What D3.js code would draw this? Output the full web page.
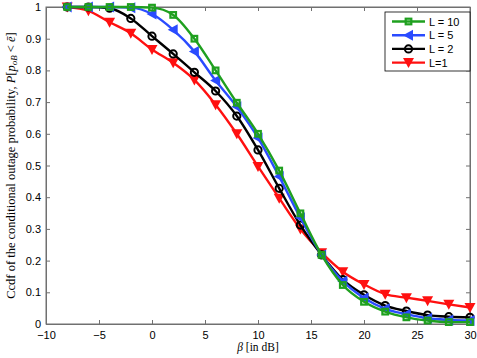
<!DOCTYPE html>
<html>
<head>
<meta charset="utf-8">
<script src="https://cdn.jsdelivr.net/npm/d3@7"></script>
<style>
body { margin: 0; background: #fff; }
svg { display: block; }
.tick text { font-family: "Liberation Sans", Arial, sans-serif; font-size: 11px; fill: #000; }
</style>
</head>
<body>
<svg id="chart"></svg>
<script>
var betas = [-8, -6, -4, -2, 0, 2, 4, 6, 8, 10, 12, 14, 16, 18, 20, 22, 24, 26, 28, 30];
var ccdfL10 = [1, 1, 1, 1, 0.998, 0.975, 0.90, 0.80, 0.698, 0.60, 0.484, 0.349, 0.218, 0.123, 0.070, 0.039, 0.021, 0.011, 0.006, 0.006];
var ccdfL5 = [1, 1, 1, 0.998, 0.978, 0.928, 0.86, 0.768, 0.685, 0.587, 0.465, 0.335, 0.218, 0.135, 0.082, 0.048, 0.031, 0.018, 0.013, 0.011];
var ccdfL2 = [1, 1, 0.996, 0.964, 0.908, 0.852, 0.794, 0.735, 0.656, 0.549, 0.428, 0.312, 0.218, 0.14, 0.092, 0.058, 0.041, 0.028, 0.023, 0.021];
var ccdfL1 = [1, 0.988, 0.952, 0.917, 0.866, 0.824, 0.77, 0.692, 0.60, 0.497, 0.397, 0.30, 0.225, 0.165, 0.125, 0.094, 0.083, 0.073, 0.062, 0.052];
var seriesNames = ["L = 10", "L = 5", "L = 2", "L=1"];
var xTicks = [-10, -5, 0, 5, 10, 15, 20, 25, 30];
var yTicks = [0, 0.1, 0.2, 0.3, 0.4, 0.5, 0.6, 0.7, 0.8, 0.9, 1];

var width = 477, height = 358;
var margin = { top: 7, right: 7, bottom: 34, left: 46 };
var w = width - margin.left - margin.right,
    h = height - margin.top - margin.bottom;

var series = [
    { name: seriesNames[0], values: ccdfL10, color: "#1fa01f", marker: "square" },
    { name: seriesNames[1], values: ccdfL5, color: "#2a4bff", marker: "left" },
    { name: seriesNames[2], values: ccdfL2, color: "#000000", marker: "circle" },
    { name: seriesNames[3], values: ccdfL1, color: "#ff1010", marker: "down" }
];

var svg = d3.select("#chart").attr("width", width).attr("height", height);
var g = svg.append("g").attr("transform", "translate(" + margin.left + "," + margin.top + ")");

var x = d3.scaleLinear().domain([-10, 30]).range([0, w]);
var y = d3.scaleLinear().domain([0, 1]).range([h, 0]);

var axisColor = "#707070";

// frame
g.append("rect").attr("width", w).attr("height", h)
    .attr("fill", "none").attr("stroke", axisColor).attr("stroke-width", 1);

var xAxis = g.append("g").attr("transform", "translate(0," + h + ")")
    .call(d3.axisBottom(x).tickValues(xTicks).tickSize(-4).tickPadding(7)
        .tickFormat(function(d) { return d < 0 ? "\u2212" + Math.abs(d) : d; }));
var xTop = g.append("g").call(d3.axisTop(x).tickValues(xTicks).tickSize(-4).tickFormat(""));
var yAxis = g.append("g")
    .call(d3.axisLeft(y).tickValues(yTicks).tickSize(-4).tickPadding(5)
        .tickFormat(function(d) { return d === 0 || d === 1 ? d : d3.format(".1f")(d); }));
var yRight = g.append("g").attr("transform", "translate(" + w + ",0)")
    .call(d3.axisRight(y).tickValues(yTicks).tickSize(-4).tickFormat(""));

[xAxis, xTop, yAxis, yRight].forEach(function(a) {
    a.select(".domain").attr("stroke", axisColor);
    a.selectAll(".tick line").attr("stroke", axisColor);
});

var line = d3.line()
    .x(function(d) { return x(d.b); })
    .y(function(d) { return y(d.v); })
    .curve(d3.curveMonotoneX);

function drawMarker(sel, type, color) {
    if (type === "square") {
        sel.append("rect").attr("x", -2.8).attr("y", -2.8).attr("width", 5.6).attr("height", 5.6)
            .attr("fill", "none").attr("stroke", color).attr("stroke-width", 2.2);
    } else if (type === "circle") {
        sel.append("circle").attr("r", 3.6)
            .attr("fill", "none").attr("stroke", color).attr("stroke-width", 2);
    } else if (type === "left") {
        sel.append("path").attr("d", "M-5.5,0L4.5,-5.5L4.5,5.5Z").attr("fill", color);
    } else if (type === "down") {
        sel.append("path").attr("d", "M-5.5,-4.5L5.5,-4.5L0,5.5Z").attr("fill", color);
    }
}

// draw series in reverse order so green lies on top
series.slice().reverse().forEach(function(s) {
    var pts = betas.map(function(b, i) { return { b: b, v: s.values[i] }; });
    g.append("path").datum(pts)
        .attr("fill", "none").attr("stroke", s.color).attr("stroke-width", 2.4)
        .attr("d", line);
    g.selectAll(null).data(pts).enter().append("g")
        .attr("transform", function(d) { return "translate(" + x(d.b) + "," + y(d.v) + ")"; })
        .each(function() { drawMarker(d3.select(this), s.marker, s.color); });
});

// legend
var lg = svg.append("g").attr("transform", "translate(385,12)");
lg.append("rect").attr("width", 85).attr("height", 59)
    .attr("fill", "#fff").attr("stroke", "#000").attr("stroke-width", 0.8);
series.forEach(function(s, i) {
    var row = lg.append("g").attr("transform", "translate(0," + (9.5 + i * 13.7) + ")");
    row.append("line").attr("x1", 7).attr("x2", 40)
        .attr("stroke", s.color).attr("stroke-width", 2.4);
    var m = row.append("g").attr("transform", "translate(23.5,0)");
    drawMarker(m, s.marker, s.color);
    row.append("text").attr("x", 44).attr("y", 4)
        .attr("font-family", "Liberation Sans, Arial, sans-serif").attr("font-size", 11)
        .text(s.name);
});

// axis labels
svg.append("text")
    .attr("x", margin.left + w / 2).attr("y", 351)
    .attr("text-anchor", "middle")
    .attr("font-family", "Liberation Serif, Times New Roman, serif").attr("font-size", 11.5)
    .call(function(t) {
        t.append("tspan").attr("font-style", "italic").text("\u03b2");
        t.append("tspan").text(" [in dB]");
    });

var yl = svg.append("text")
    .attr("transform", "translate(15," + (margin.top + h / 2) + ") rotate(-90)")
    .attr("text-anchor", "middle")
    .attr("font-family", "Liberation Serif, Times New Roman, serif").attr("font-size", 12.5);
yl.append("tspan").text("Ccdf of the conditional outage probability, ");
yl.append("tspan").attr("font-style", "italic").text("P");
yl.append("tspan").text("[");
yl.append("tspan").attr("font-style", "italic").text("p");
yl.append("tspan").attr("font-style", "italic").attr("font-size", 9).attr("dy", 2).text("oB");
yl.append("tspan").attr("dy", -2).text(" < ");
yl.append("tspan").attr("font-style", "italic").text("\u0113");
yl.append("tspan").text("]");
</script>
</body>
</html>
